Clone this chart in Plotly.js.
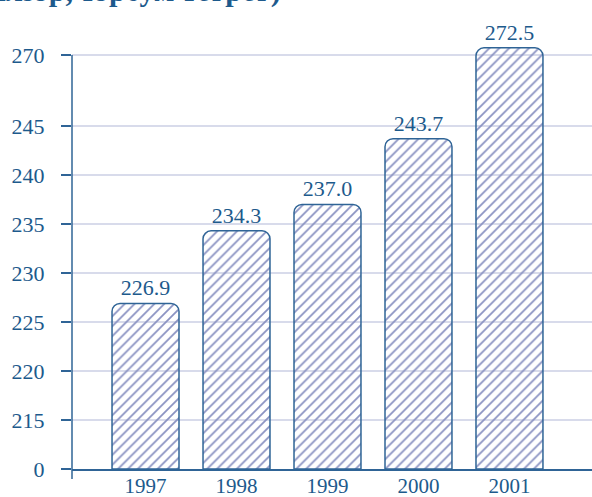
<!DOCTYPE html>
<html>
<head>
<meta charset="utf-8">
<script src="https://cdn.plot.ly/plotly-3.0.1.min.js"></script>
<style>html,body{margin:0;padding:0;background:#fff;}#chart{width:592px;height:497px;}</style>
</head>
<body>
<div id="chart"></div>
<script>
// ---- data ----
const years = ['1997', '1998', '1999', '2000', '2001'];
const values = [226.9, 234.3, 237.0, 243.7, 272.5];
const valueLabels = ['226.9', '234.3', '237.0', '243.7', '272.5'];
const tickValues = [0, 215, 220, 225, 230, 235, 240, 245, 270];
const tickLabels = ['0', '215', '220', '225', '230', '235', '240', '245', '270'];
const titleText = '(жилээр, тэрбум төгрөг)';

// ---- broken-axis scale (display positions of the ticks) ----
const tickPos = [0, 1, 2, 3, 4, 5, 6, 7, 8.45];
function disp(v) {
  for (let i = 1; i < tickValues.length; i++) {
    if (v <= tickValues[i]) {
      const a = tickValues[i - 1], b = tickValues[i];
      return tickPos[i - 1] + (v - a) / (b - a) * (tickPos[i] - tickPos[i - 1]);
    }
  }
  const n = tickValues.length - 1;
  const slope = (tickPos[n] - tickPos[n - 1]) / (tickValues[n] - tickValues[n - 1]);
  return tickPos[n] + (v - tickValues[n]) * slope;
}

const FONT = '"Liberation Serif", "Times New Roman", serif';
const blue = '#1d5a8c';
const axisBlue = '#2f6496';
const W = 592, H = 497;
const m = {l: 72, r: 0, t: 20, b: 28};
const plotH = H - m.t - m.b;
const yMax = plotH / 49;

const trace = {
  type: 'bar',
  x: years,
  y: values.map(disp),
  text: valueLabels,
  textposition: 'outside',
  cliponaxis: false,
  textfont: {family: FONT, size: 22, color: blue},
  marker: {
    color: 'rgba(0,0,0,0)',
    cornerradius: 8,
    line: {color: axisBlue, width: 1.5},
    pattern: {shape: '/', fgcolor: '#8a92c2', bgcolor: 'rgba(0,0,0,0)', size: 7, solidity: 0.25}
  },
  hoverinfo: 'skip'
};

const layout = {
  width: W, height: H,
  margin: m,
  paper_bgcolor: '#fff', plot_bgcolor: '#fff',
  showlegend: false,
  bargap: 0.264,
  font: {family: FONT, color: blue, size: 22},
  xaxis: {
    type: 'category',
    range: [-0.808, 4.907],
    showline: true, linecolor: axisBlue, linewidth: 1.5,
    showgrid: false, zeroline: false,
    ticks: '', ticklabelstandoff: -3,
    tickfont: {family: FONT, size: 21, color: blue}
  },
  yaxis: {
    range: [0, yMax],
    tickmode: 'array', tickvals: tickPos, ticktext: tickLabels,
    ticks: 'outside', ticklen: 10, tickwidth: 1.5, tickcolor: axisBlue,
    ticklabelstandoff: 12,
    showline: false, zeroline: false,
    showgrid: true, gridcolor: '#d8dbeb', gridwidth: 1.5,
    tickfont: {family: FONT, size: 22, color: blue}
  },
  shapes: [{
    type: 'line', xref: 'paper', yref: 'paper',
    x0: 0, x1: 0, y0: -10 / plotH, y1: tickPos[tickPos.length - 1] / yMax,
    line: {color: axisBlue, width: 1.5}
  }],
  annotations: [{
    text: '<b>' + titleText + '</b>',
    xref: 'paper', yref: 'paper',
    x: (283 - m.l) / (W - m.l - m.r), xanchor: 'right',
    y: (H - m.b - 10) / plotH, yanchor: 'bottom',
    showarrow: false,
    font: {family: FONT, size: 30, color: blue}
  }]
};

Plotly.newPlot('chart', [trace], layout, {staticPlot: true});
</script>
</body>
</html>
